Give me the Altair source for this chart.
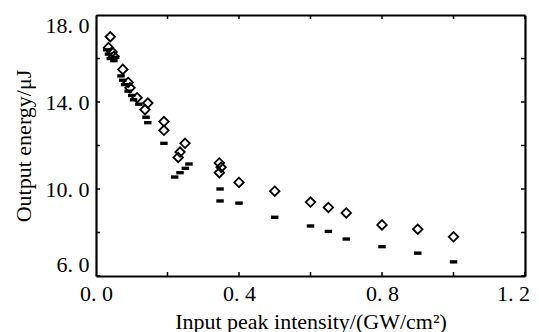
import altair as alt
import pandas as pd

# Open diamond series
dia_x = [0.040, 0.035, 0.045, 0.050, 0.075, 0.090, 0.095, 0.115, 0.137, 0.145,
         0.190, 0.190, 0.249, 0.235, 0.230, 0.345, 0.350, 0.345, 0.400, 0.500,
         0.600, 0.650, 0.700, 0.800, 0.900, 1.000]
dia_y = [17.0, 16.5, 16.3, 16.1, 15.5, 14.9, 14.65, 14.2, 13.65, 13.95,
         13.1, 12.7, 12.1, 11.7, 11.45, 11.2, 11.0, 10.75, 10.3, 9.9,
         9.4, 9.15, 8.9, 8.35, 8.15, 7.8]

# Filled dash series
bar_x = [0.030, 0.035, 0.040, 0.050, 0.055, 0.070, 0.075, 0.080, 0.090, 0.100,
         0.105, 0.120, 0.140, 0.145, 0.190, 0.220, 0.235, 0.250, 0.260, 0.347,
         0.347, 0.400, 0.500, 0.600, 0.650, 0.700, 0.800, 0.900, 1.000]
bar_y = [16.4, 16.2, 16.0, 15.9, 16.05, 15.2, 15.0, 14.8, 14.5, 14.3,
         14.1, 13.9, 13.3, 13.05, 12.1, 10.55, 10.75, 10.95, 11.15, 10.0,
         9.45, 9.35, 8.7, 8.3, 8.05, 7.7, 7.35, 7.05, 6.65]

x_ticks = [0.0, 0.2, 0.4, 0.6, 0.8, 1.0, 1.2]
y_ticks = [6, 8, 10, 12, 14, 16, 18]
x_range = [0, 1.2]
y_range = [6, 18]

df_d = pd.DataFrame({"x": dia_x, "y": dia_y})
df_b = pd.DataFrame({"x": bar_x, "y": bar_y})
df_xt = pd.DataFrame({"x": x_ticks})
df_yt = pd.DataFrame({"y": y_ticks})

FONT = "Liberation Serif"
xscale = alt.Scale(domain=x_range, nice=False, zero=False)
yscale = alt.Scale(domain=y_range, nice=False, zero=False)

common = dict(offset=0, ticks=False, tickSize=0, domain=True, domainColor="black",
              domainWidth=2.2, grid=True, gridColor="black", gridWidth=2.2,
              labelFont=FONT, labelFontSize=22, titleFont=FONT, titleFontSize=22,
              titleFontWeight="normal", labelColor="black", titleColor="black")

x_axis = alt.Axis(values=x_ticks, title="Input peak intensity/(GW/cm²)",
                  labelExpr="round(datum.value*5) % 2 == 0 ? replace(format(datum.value, '.1f'), '.', '. ') : ''",
                  labelPadding=7, titlePadding=7, labelFlush=False,
                  labelOffset={"condition": {"test": "datum.value > 1.1", "value": -12}, "value": 0},
                  gridOpacity={"condition": {"test": "datum.value > 1.19", "value": 1}, "value": 0},
                  **common)
y_axis = alt.Axis(values=y_ticks, title="Output energy/μJ",
                  labelExpr="datum.value % 4 == 2 ? replace(format(datum.value, '.1f'), '.', '. ') : ''",
                  labelPadding=7, titlePadding=10, labelFlush=True,
                  gridOpacity={"condition": {"test": "datum.value > 17.9", "value": 1}, "value": 0},
                  **common)

diamonds = alt.Chart(df_d).mark_point(
    shape="diamond", filled=False, size=90, stroke="black", strokeWidth=1.8, opacity=1
).encode(
    x=alt.X("x:Q", scale=xscale, axis=x_axis),
    y=alt.Y("y:Q", scale=yscale, axis=y_axis),
)

dashes = alt.Chart(df_b).mark_point(
    shape="M-1,-0.45L1,-0.45L1,0.45L-1,0.45Z", filled=True, size=56,
    color="black", opacity=1
).encode(
    x=alt.X("x:Q", scale=xscale),
    y=alt.Y("y:Q", scale=yscale),
)


def xticks_at(yv):
    return alt.Chart(df_xt).mark_tick(
        orient="vertical", size=8, thickness=1.5, color="black", opacity=1, clip=True
    ).encode(
        x=alt.X("x:Q", scale=xscale),
        y=alt.datum(yv, scale=yscale),
    )


def yticks_at(xv):
    return alt.Chart(df_yt).mark_tick(
        orient="horizontal", size=8, thickness=1.5, color="black", opacity=1, clip=True
    ).encode(
        x=alt.datum(xv, scale=xscale),
        y=alt.Y("y:Q", scale=yscale),
    )


chart = alt.layer(
    diamonds, dashes,
    xticks_at(y_range[0]), xticks_at(y_range[1]),
    yticks_at(x_range[0]), yticks_at(x_range[1]),
).properties(
    width=429, height=261,
    background="white",
    autosize=alt.AutoSizeParams(type="none"),
    padding={"left": 88, "top": 7, "right": 6, "bottom": 56},
).configure_view(
    strokeWidth=0
)

chart.save("out.html", embed_options={"renderer": "svg", "actions": False})
